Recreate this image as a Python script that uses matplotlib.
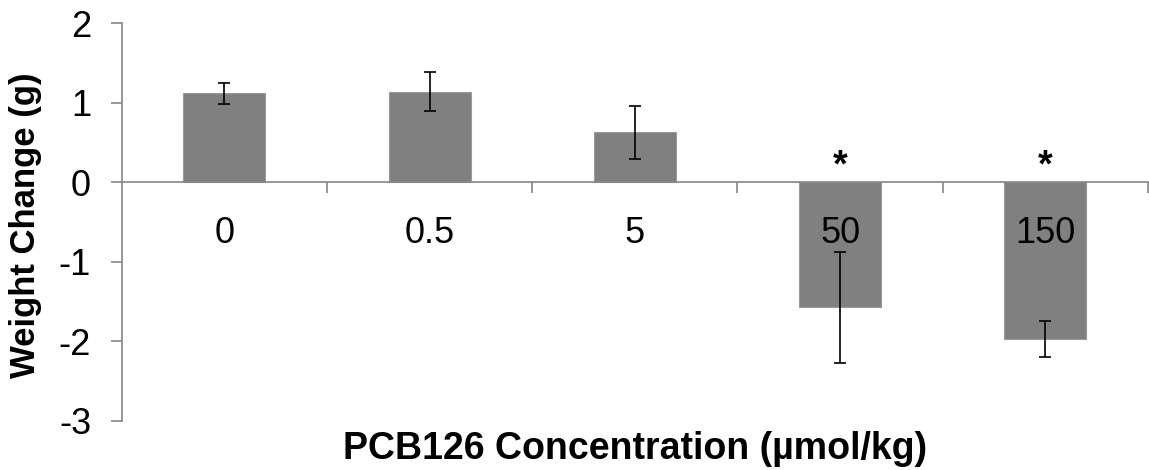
import matplotlib
matplotlib.use("Agg")
import matplotlib.pyplot as plt
import numpy as np

plt.rcParams['font.family'] = ['Liberation Sans', 'DejaVu Sans']

categories = ["0", "0.5", "5", "50", "150"]
means = [1.12, 1.14, 0.63, -1.57, -1.97]
errors = [0.13, 0.245, 0.335, 0.70, 0.225]
significant = [False, False, False, True, True]
yticks = [2, 1, 0, -1, -2, -3]

fig = plt.figure(figsize=(11.49, 4.70), dpi=100)
ax = fig.add_axes([0.1059, 0.1043, 0.8932, 0.8461])

x = np.arange(len(categories))
axis_gray = "#868686"

ax.bar(x, means, width=0.40, color="#808080", edgecolor="#9a9a9a",
       linewidth=0.8, zorder=1)
ax.errorbar(x, means, yerr=errors, fmt="none", ecolor="black",
            elinewidth=1.2, capsize=4, capthick=1.2, zorder=3)

for xi, sig in zip(x, significant):
    if sig:
        ax.text(xi, 0.07, "*", ha="center", va="baseline",
                fontsize=27, fontweight="bold", color="black")

ax.set_xlim(-0.5, len(categories) - 0.5)
ax.set_ylim(-3, 2)
ax.set_yticks(yticks)
ax.set_yticklabels([str(v) for v in yticks])

# category boundaries as major ticks, labels on minor ticks at centres
ax.set_xticks(np.arange(0.5, len(categories), 1.0))
ax.set_xticklabels([])
ax.set_xticks(x, minor=True)
ax.set_xticklabels(categories, minor=True)

ax.spines["top"].set_visible(False)
ax.spines["right"].set_visible(False)
ax.spines["bottom"].set_position(("data", 0))
for s in ("left", "bottom"):
    ax.spines[s].set_color(axis_gray)
    ax.spines[s].set_linewidth(1.2)

ax.tick_params(axis="y", which="major", direction="out", length=8,
               width=1.2, color=axis_gray, labelsize=26, pad=14,
               labelcolor="black")
ax.tick_params(axis="x", which="major", direction="out", length=8,
               width=1.2, color=axis_gray)
ax.tick_params(axis="x", which="minor", length=0, labelsize=26, pad=24,
               labelcolor="black")

ax.set_ylabel("Weight Change (g)", fontsize=25, fontweight="bold")
ax.yaxis.set_label_coords(-0.078, 0.493)
fig.text(0.5525, 0.045, "PCB126 Concentration (\u00b5mol/kg)", ha="center",
         va="center", fontsize=27, fontweight="bold")

fig.savefig("out.png", dpi=100)
